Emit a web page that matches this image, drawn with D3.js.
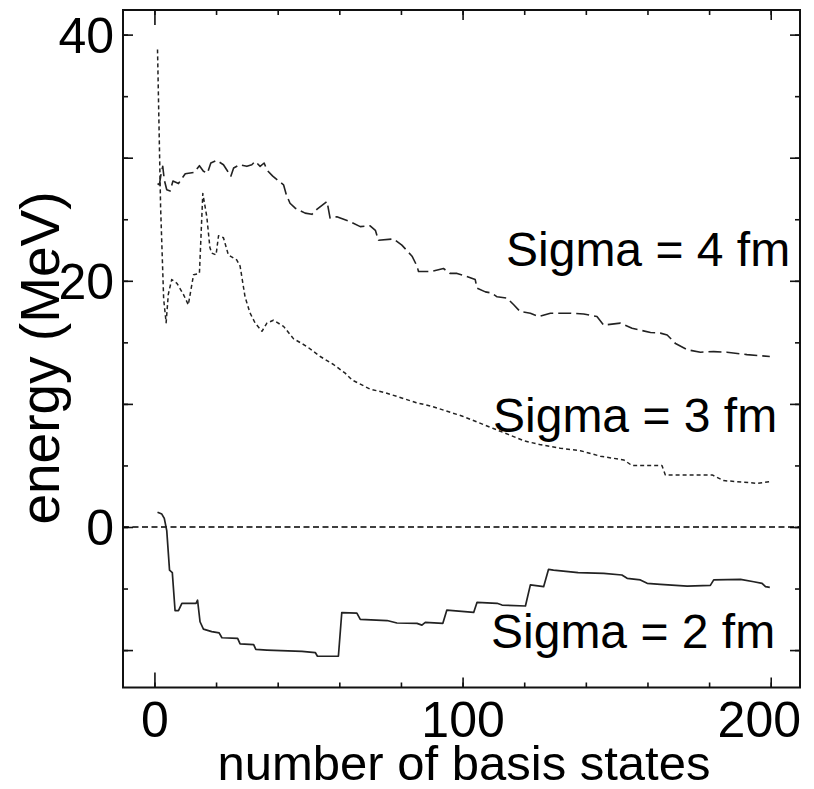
<!DOCTYPE html>
<html>
<head>
<meta charset="utf-8">
<script src="https://cdn.jsdelivr.net/npm/d3@7/dist/d3.min.js"></script>
<style>
  html, body { margin: 0; padding: 0; background: #fff; }
  svg { display: block; }
  text { font-family: "Liberation Sans", Arial, Helvetica, sans-serif; fill: #000; }
</style>
</head>
<body>
<svg id="chart" width="814" height="789"></svg>
<script>
// Lowest energy vs. number of basis states, for three Gaussian widths.
// Each series: [number of basis states, energy in MeV]
const sigma4 = [
  [1, 27.9], [1.6, 27.8], [2.2, 28.75], [2.7, 29.3], [3.2, 28.2], [4, 27.4], [5.1, 27.3],
  [6, 28.1], [7.8, 27.9], [10, 28.7], [12.9, 28.8], [14.6, 29.35], [15.9, 28.9], [17.2, 28.75],
  [18.3, 29.57], [20.2, 29.78], [22.4, 29.43], [23.5, 29.0], [24.8, 28.5], [25.7, 29.16],
  [27.6, 29.43], [30, 29.3], [31.6, 29.43], [32.7, 29.7], [34.3, 29.3], [35.6, 29.57],
  [36.5, 29.0], [38.4, 28.5], [41.9, 27.8], [42.8, 27.0], [44, 26.3], [45.7, 25.9],
  [48.9, 25.5], [51.1, 25.4], [52.7, 25.8], [56, 26.45], [57, 25.1], [59.2, 25.2],
  [63.5, 24.8], [66.8, 24.4], [70, 24.47], [71.7, 24.1], [72.7, 23.3], [77.6, 23.4],
  [80.3, 22.9], [83.6, 22.0], [85.2, 21.2], [85.7, 20.76], [90, 20.76], [93.8, 21.0],
  [95.9, 20.6], [98.2, 20.6], [100.9, 20.4], [104.1, 20.1], [104.7, 19.4], [107.4, 19.1],
  [109.5, 19.0], [111.2, 18.7], [114.4, 18.6], [116.6, 18.05], [118.7, 17.5], [122, 17.37],
  [124.7, 17.1], [128.5, 17.37], [135, 17.37], [139.3, 17.3], [143.6, 17.1], [145.8, 16.4],
  [151.2, 16.56], [155, 16.15], [161, 15.8], [164.2, 15.75], [166.4, 15.6], [169.1, 14.9],
  [172.9, 14.4], [177.2, 14.2], [181.5, 14.25], [185.8, 14.2], [192.3, 14.0], [199.7, 13.85]
];

const sigma3 = [
  [1, 38.8], [2, 26.0], [3, 18.5], [3.8, 16.6], [4.5, 18.9], [5.6, 20.1], [7.3, 19.8],
  [9.4, 18.9], [11, 18.05], [12.7, 20.5], [14.6, 20.6], [15.7, 27.1], [17, 25.2],
  [18, 22.7], [18.6, 22.25], [20, 22.1], [20.8, 23.66], [22.4, 23.5], [24, 22.1],
  [26.7, 21.7], [27.8, 21.2], [29.4, 18.7], [31, 17.4], [32.7, 16.56], [34.9, 15.9],
  [36.5, 16.56], [38.6, 16.8], [41.9, 16.3], [45.1, 15.3], [49.5, 14.66], [53.8, 13.85],
  [58.1, 13.2], [61.9, 12.5], [64.1, 11.95], [70, 11.2], [75, 10.9], [80, 10.5],
  [85, 10.1], [90, 9.8], [95, 9.4], [100, 9.0], [105, 8.5], [110, 8.0], [115, 7.5],
  [120, 7.0], [125, 6.7], [131.7, 6.4], [138.2, 6.2], [144.7, 5.75], [152.3, 5.45],
  [155, 4.99], [164.7, 4.99], [165.8, 4.23], [181, 4.23], [184.7, 3.77], [195.6, 3.55],
  [199.7, 3.68]
];

const sigma2 = [
  [1, 1.2], [2.4, 1.05], [3.2, 0.7], [4, -0.3], [4.9, -3.5], [5.8, -3.7], [6.7, -6.8],
  [7.8, -6.8], [8.9, -6.2], [13.5, -6.2], [14, -5.95], [14.8, -7.7], [15.9, -8.3],
  [18.6, -8.5], [21, -8.6], [21.9, -9.0], [27, -9.05], [27.8, -9.5], [32.2, -9.55],
  [32.9, -9.95], [36.5, -10.0], [47.9, -10.1], [52.2, -10.2], [52.9, -10.5], [59.7, -10.5],
  [60.8, -6.95], [65.7, -7.0], [66.8, -7.5], [75.5, -7.6], [78.7, -7.8], [85.2, -7.83],
  [86.8, -7.97], [87.9, -7.75], [93.6, -7.83], [94.9, -6.75], [103.6, -6.94], [104.7, -6.12],
  [111.2, -6.2], [112.8, -6.34], [120.4, -6.42], [122, -4.7], [126.3, -4.85], [127.9, -3.44],
  [129.5, -3.5], [137.5, -3.7], [145.8, -3.77], [151.7, -3.9], [153.4, -4.17], [157.7, -4.3],
  [159.9, -4.58], [164.2, -4.66], [172.9, -4.8], [180.4, -4.74], [181.5, -4.3], [190.2, -4.25],
  [194.5, -4.45], [197.2, -4.58], [198.3, -4.85], [199.7, -4.9]
];

const seriesLabels = ["Sigma = 4 fm", "Sigma = 3 fm", "Sigma = 2 fm"];
const xLabelTicks = [0, 100, 200];
const yLabelTicks = [0, 20, 40];
const xTitle = "number of basis states";
const yTitle = "energy (MeV)";

const svg = d3.select("#chart");
const frame = { left: 123, top: 10, right: 800, bottom: 687.5 };

const x = d3.scaleLinear().domain([-10.2, 209.5]).range([frame.left, frame.right]);
const y = d3.scaleLinear().domain([-13.04, 42.0]).range([frame.bottom, frame.top]);

const tickStroke = g => {
  g.select(".domain").remove();
  g.selectAll(".tick line").attr("stroke", "#111").attr("stroke-width", 1.6);
};

// Inward ticks on all four sides: short every 20 / 5, longer every 100 / 10
const xMinor = d3.range(0, 201, 20);
const xMajor = [100, 200];
const yMinor = d3.range(-10, 41, 5);
const yMajor = d3.range(-10, 41, 10);

function ticks(axisFn, scale, values, size, tx, ty) {
  svg.append("g").attr("transform", `translate(${tx},${ty})`)
    .call(axisFn(scale).tickValues(values).tickSize(-size).tickFormat(""))
    .call(tickStroke);
}
ticks(d3.axisBottom, x, xMinor, 5, 0, frame.bottom);
ticks(d3.axisBottom, x, xMajor, 10, 0, frame.bottom);
ticks(d3.axisBottom, x, [0], 15, 0, frame.bottom);
ticks(d3.axisTop, x, xMinor, 5, 0, frame.top);
ticks(d3.axisTop, x, xMajor, 10, 0, frame.top);
ticks(d3.axisTop, x, [0], 15, 0, frame.top);
ticks(d3.axisLeft, y, yMinor, 5, frame.left, 0);
ticks(d3.axisLeft, y, yMajor, 10, frame.left, 0);
ticks(d3.axisRight, y, yMinor, 5, frame.right, 0);
ticks(d3.axisRight, y, yMajor, 10, frame.right, 0);

// Tick labels
const yAxisLabels = svg.append("g").attr("transform", `translate(${frame.left},0)`)
  .call(d3.axisLeft(y).tickValues(yLabelTicks).tickSize(0).tickPadding(9).tickFormat(d3.format("d")));
yAxisLabels.select(".domain").remove();
yAxisLabels.selectAll("text").attr("font-size", 50).attr("fill", "#000")
  .attr("font-family", "Liberation Sans, Arial, sans-serif").attr("dy", "0.36em");

const xAxisLabels = svg.append("g").attr("transform", `translate(0,${frame.bottom})`)
  .call(d3.axisBottom(x).tickValues(xLabelTicks).tickSize(0).tickPadding(14).tickFormat(d3.format("d")));
xAxisLabels.select(".domain").remove();
xAxisLabels.selectAll("text").attr("font-size", 50).attr("fill", "#000")
  .attr("font-family", "Liberation Sans, Arial, sans-serif");
// keep the rightmost label inside the frame
xAxisLabels.selectAll(".tick").each(function () {
  const t = d3.select(this).select("text");
  const w = t.node().getComputedTextLength();
  const tx = d3.select(this).attr("transform").match(/translate\(([-\d.]+)/);
  const cx = +tx[1];
  if (cx + w / 2 > frame.right) t.attr("x", frame.right + 1 - w / 2 - cx);
});

// Zero reference line
svg.append("line")
  .attr("x1", frame.left).attr("x2", frame.right)
  .attr("y1", y(0)).attr("y2", y(0))
  .attr("stroke", "#000").attr("stroke-width", 1.5).attr("stroke-dasharray", "6,3.5");

// Curves
const line = d3.line().x(d => x(d[0])).y(d => y(d[1]));
const styles = [
  { data: sigma4, dash: "13,5", width: 1.6 },
  { data: sigma3, dash: "4,3", width: 1.5 },
  { data: sigma2, dash: null, width: 1.7 }
];
styles.forEach(s => {
  svg.append("path").datum(s.data)
    .attr("d", line)
    .attr("fill", "none")
    .attr("stroke", "#222")
    .attr("stroke-width", s.width)
    .attr("stroke-linejoin", "round")
    .attr("stroke-dasharray", s.dash);
});

// Frame
svg.append("rect")
  .attr("x", frame.left).attr("y", frame.top)
  .attr("width", frame.right - frame.left).attr("height", frame.bottom - frame.top)
  .attr("fill", "none").attr("stroke", "#111").attr("stroke-width", 2);

// Series labels
const labelPos = [[506, 266], [493, 432], [491, 648]];
seriesLabels.forEach((t, i) => {
  svg.append("text").attr("x", labelPos[i][0]).attr("y", labelPos[i][1])
    .attr("font-size", 48).text(t);
});

// Axis titles
svg.append("text").attr("x", 464).attr("y", 780)
  .attr("text-anchor", "middle").attr("font-size", 49).text(xTitle);
svg.append("text")
  .attr("transform", `translate(59,358) rotate(-90)`)
  .attr("text-anchor", "middle").attr("font-size", 55).text(yTitle);
</script>
</body>
</html>
